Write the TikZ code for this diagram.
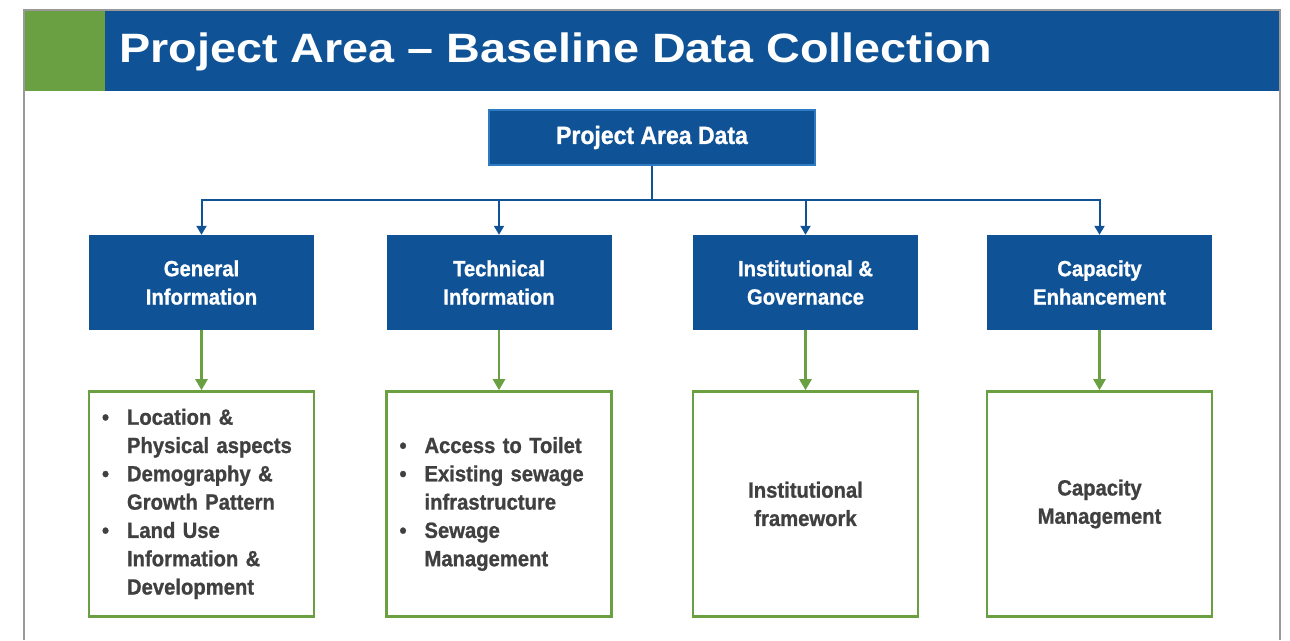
\documentclass[tikz,border=0pt]{standalone}
\usepackage{fontspec}
\setmainfont{Liberation Sans}
\newfontfamily\titlefont[FakeStretch=1.14]{Liberation Sans}
\newfontfamily\condfont[FakeStretch=0.92,BoldFeatures={FakeBold=1}]{Liberation Sans}
\usetikzlibrary{arrows.meta,positioning,calc}
\definecolor{barblue}{HTML}{0F5396}
\definecolor{edgeblue}{HTML}{2E7BC4}
\definecolor{leafgreen}{HTML}{6A9F42}
\definecolor{textgray}{HTML}{404040}
\tikzset{
  headbox/.style={draw=edgeblue,line width=1.5pt,fill=barblue,text=white,font=\condfont\bfseries\fontsize{25}{30}\selectfont,
    minimum width=326pt,minimum height=55pt,inner sep=0pt},
  catbox/.style={fill=barblue,text=white,align=center,font=\condfont\bfseries\fontsize{22}{28.3}\selectfont,
    minimum width=225pt,minimum height=95pt,inner sep=0pt},
  leafbox/.style={draw=leafgreen,line width=2.5pt,fill=white,text=textgray,font=\condfont\bfseries\fontsize{22}{28.3}\selectfont,
    minimum width=225pt,minimum height=225pt,text width=199pt,inner xsep=13pt,inner ysep=0pt},
  bluelink/.style={draw=barblue,line width=2pt,->},
  greenlink/.style={draw=leafgreen,line width=2.5pt,-{Triangle[width=12pt,length=11pt]}}
}
\begin{document}
\begin{tikzpicture}[x=1pt,y=-1pt,>={Triangle[width=10pt,length=9pt]}]
  \useasboundingbox (0,0) rectangle (1290,640);
  % Slide frame and title bar
  \fill[barblue] (105,10) rectangle (1280,91);
  \fill[leafgreen] (24,10) rectangle (105,91);
  \draw[gray!80,line width=1.2pt] (24,640) -- (24,10) -- (1280,10) -- (1280,640);
  \node (title) [anchor=west,text=white,font=\titlefont\bfseries\fontsize{41}{46}\selectfont] at (116,52)
    {Project Area – Baseline Data Collection};
  % Top node
  \node (pad) [headbox] at (652,137.5) {Project Area Data};
  \coordinate (junc) at (652,200);
  % Category row
  \node (gen) [catbox] at (201.5,282.5) {General\\Information};
  \node (tech) [catbox] at (499,282.5) {Technical\\Information};
  \node (inst) [catbox] at (805.5,282.5) {Institutional \&\\Governance};
  \node (cap) [catbox] at (1099.5,282.5) {Capacity\\Enhancement};
  % Detail row
  \node (genlist) [leafbox,below=60pt of gen] {%
    \begin{tabular}{@{}p{25pt}@{}l@{}}
    \textbullet & Location \&\\
     & Physical aspects\\
    \textbullet & Demography \&\\
     & Growth Pattern\\
    \textbullet & Land Use\\
     & Information \&\\
     & Development
    \end{tabular}};
  \node (techlist) [leafbox,below=60pt of tech] {%
    \begin{tabular}{@{}p{25pt}@{}l@{}}
    \textbullet & Access to Toilet\\
    \textbullet & Existing sewage\\
     & infrastructure\\
    \textbullet & Sewage\\
     & Management
    \end{tabular}};
  \node (instlist) [leafbox,align=center,below=60pt of inst] {Institutional\\framework};
  \node (caplist) [leafbox,align=center,below=60pt of cap] {Capacity\\Management};
  % Connectors
  \draw[draw=barblue,line width=2pt] (pad.south) -- (junc);
  \foreach \n in {gen,tech,inst,cap}
    \draw[bluelink] (junc) -| (\n.north);
  \draw[greenlink] (gen) -- (genlist);
  \draw[greenlink] (tech) -- (techlist);
  \draw[greenlink] (inst) -- (instlist);
  \draw[greenlink] (cap) -- (caplist);
\end{tikzpicture}
\end{document}
